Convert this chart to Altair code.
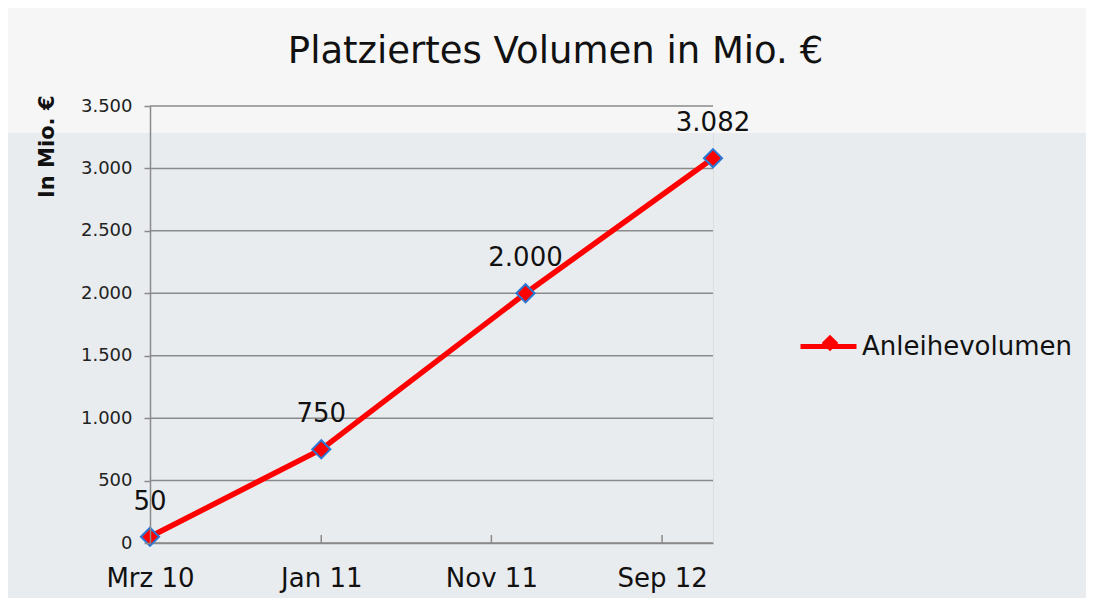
import altair as alt
import pandas as pd

# ---- data ----
point_dates = ["2010-03-01", "2011-01-01", "2012-01-01", "2012-12-01"]
volumes = [50, 750, 2000, 3082]
series_name = "Anleihevolumen"

tick_dates = ["2010-03-01", "2011-01-01", "2011-11-01", "2012-09-01"]
tick_labels = ["Mrz 10", "Jan 11", "Nov 11", "Sep 12"]
y_ticks = [0, 500, 1000, 1500, 2000, 2500, 3000, 3500]

title_text = "Platziertes Volumen in Mio. €"
y_title = "In Mio. €"

FONT = "DejaVu Sans"
GRAY = "#8a8a8a"
RED = "#ff0000"
BLUE = "#2a78d4"

df = pd.DataFrame({"date": point_dates, "v": volumes,
                   "s": [series_name] * len(volumes),
                   "s2": [series_name] * len(volumes)})
df_ticks = pd.DataFrame({"d": tick_dates})
df_grid = pd.DataFrame({"g": y_ticks})
df_one = pd.DataFrame({"a": [0]})

keys = "[" + ",".join("'%s'" % d[:7] for d in tick_dates) + "]"
labs = "[" + ",".join("'%s'" % l for l in tick_labels) + "]"
x_label_expr = f"{labs}[indexof({keys}, utcFormat(datum.value, '%Y-%m'))]"

x_scale = alt.Scale(type="utc", domain=[
    alt.DateTime(year=2010, month=3, date=1, utc=True),
    alt.DateTime(year=2012, month=12, date=1, utc=True)])
y_scale = alt.Scale(domain=[0, 3500], nice=False)

x_enc = alt.X("date:T", scale=x_scale, title=None,
              axis=alt.Axis(values=[alt.DateTime(year=int(d[:4]), month=int(d[5:7]), date=1, utc=True) for d in tick_dates],
                            labelExpr=x_label_expr, grid=False, ticks=False,
                            labelFlush=False, labelOverlap=False,
                            domainColor=GRAY, domainWidth=1.5,
                            labelFontSize=26, labelColor="#111111",
                            labelPadding=22, labelFont=FONT))
y_enc = alt.Y("v:Q", scale=y_scale, title=y_title,
              axis=alt.Axis(values=y_ticks, grid=False, zindex=1,
                            labelExpr="replace(format(datum.value, ','), ',', '.')",
                            domainColor=GRAY, domainWidth=1.5,
                            tickColor=GRAY, tickWidth=1.5, tickSize=6,
                            labelPadding=12, labelFontSize=18, labelColor="#222222",
                            titleFontSize=21, titleFontWeight="bold", titleColor="#111111",
                            titleAngle=270, titleAlign="right", titleBaseline="middle",
                            titleX=-103, titleY=-11))

band = alt.Chart(df_one).mark_rect(color="#f6f6f6").encode(
    x=alt.value(-142), x2=alt.value(936), y=alt.value(-98), y2=alt.value(27))

grid = alt.Chart(df_grid).mark_rule(color=GRAY, strokeWidth=1.5).encode(
    y=alt.Y("g:Q", scale=y_scale))

xticks = alt.Chart(df_ticks).mark_rule(color=GRAY, strokeWidth=1.5, yOffset=-8).encode(
    x=alt.X("d:T", scale=x_scale), y=alt.datum(0), y2=alt.datum(0))

line = alt.Chart(df).mark_line(strokeWidth=5.5, strokeJoin="round", strokeCap="round").encode(
    x=x_enc, y=y_enc,
    color=alt.Color("s:N", scale=alt.Scale(range=[RED]), title=None,
                    legend=alt.Legend(orient="none", legendX=648, legendY=210, padding=0,
                                      symbolType="stroke", symbolSize=3136, symbolStrokeWidth=5,
                                      labelFontSize=26, labelFont=FONT, labelColor="#111111",
                                      labelOffset=3, labelLimit=400, zindex=1)))

points = alt.Chart(df).mark_point(shape="diamond", filled=True, fill=RED, stroke=BLUE,
                                  strokeWidth=2, size=330, opacity=1).encode(
    x=alt.X("date:T", scale=x_scale), y=alt.Y("v:Q", scale=y_scale),
    shape=alt.Shape("s2:N", scale=alt.Scale(range=["diamond"]), title=None,
                    legend=alt.Legend(orient="none", legendX=667, legendY=224, padding=0,
                                      symbolSize=280, symbolFillColor=RED, symbolStrokeColor=BLUE,
                                      symbolStrokeWidth=2, labelExpr="''",
                                      labelFontSize=26, zindex=2)))

labels = alt.Chart(df).transform_calculate(
    lab="replace(format(datum.v, ','), ',', '.')"
).mark_text(dy=-35, fontSize=26, font=FONT, color="#111111", baseline="middle").encode(
    x=alt.X("date:T", scale=x_scale), y=alt.Y("v:Q", scale=y_scale), text="lab:N")

chart = alt.layer(band, grid, xticks, line, points, labels).properties(
    width=563, height=437,
    padding={"left": 142, "top": 98, "right": 373, "bottom": 55},
    autosize=alt.AutoSizeParams(type="none"),
    background="#e9ecef",
    title=alt.TitleParams(title_text, fontSize=37, font=FONT, fontWeight="normal",
                          color="#111111", anchor="middle", frame="group",
                          baseline="alphabetic", dx=124, dy=92, offset=0, zindex=1),
).resolve_legend(color="independent", shape="independent").configure_view(strokeWidth=0).configure(font=FONT)

chart.save("out.html", embed_options={"renderer": "svg", "actions": False})
